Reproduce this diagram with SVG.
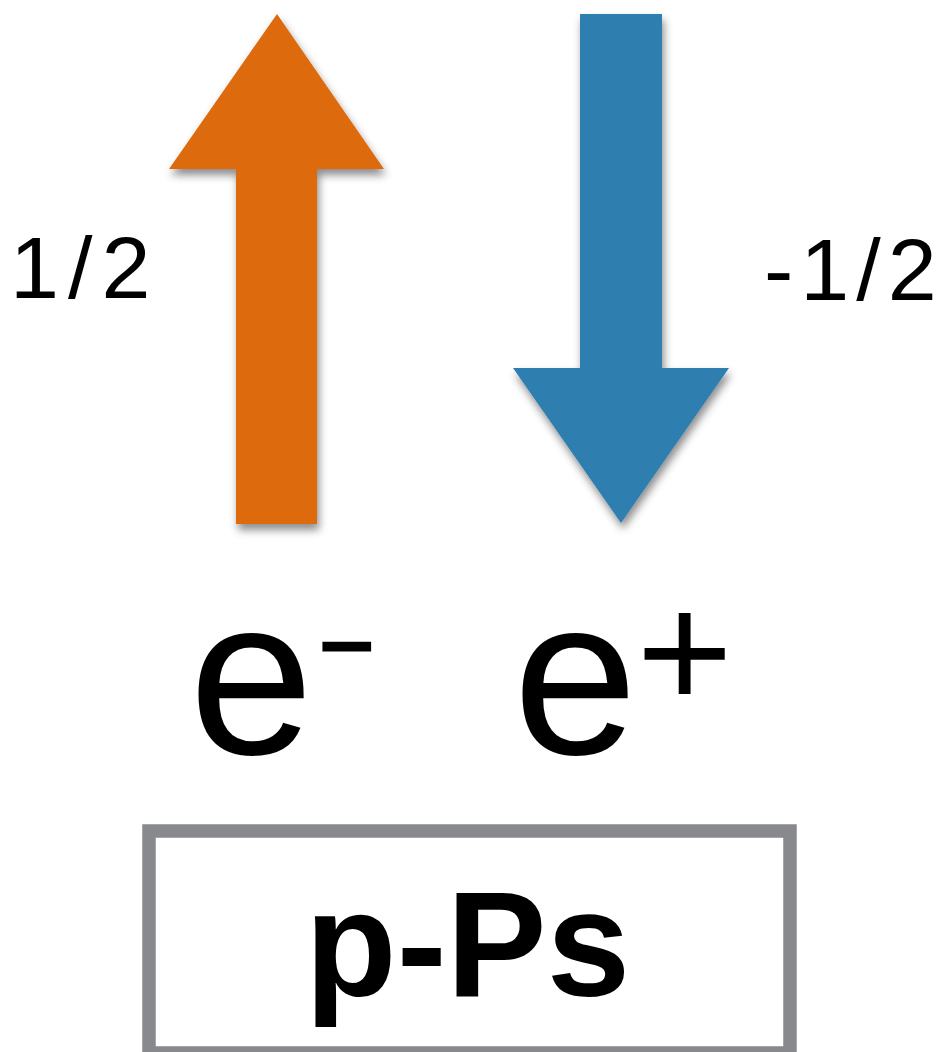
<svg xmlns="http://www.w3.org/2000/svg" width="941" height="1052" viewBox="0 0 941 1052">
<defs>
<filter id="shadow" x="-20%" y="-10%" width="140%" height="130%">
<feDropShadow dx="2" dy="6" stdDeviation="4" flood-color="#000" flood-opacity="0.45"/>
</filter>
</defs>
<style>
.lbl{font-family:"Liberation Sans",Arial,sans-serif;fill:#000}
.spin{font-size:88px}
.part{font-size:224px}
.box{fill:#fff;stroke:#87898d;stroke-width:13.5}
.title{font-family:"Liberation Sans",Arial,sans-serif;font-weight:bold;font-size:150px;fill:#000}
</style>
<rect width="941" height="1052" fill="#fff"/>
<g id="connectors">
<polygon id="arrow-up" filter="url(#shadow)" fill="#dd6b0f" points="236,524 317,524 317,169 384,169 277,14 169,169 236,169"/>
<polygon id="arrow-down" filter="url(#shadow)" fill="#2e7eb0" points="580,14 662,14 662,368 729,368 621,523 513,368 580,368"/>
</g>
<g id="spin-up-label"><text class="lbl spin" x="10" y="298" dx="0 9 9">1/2</text></g>
<g id="spin-down-label"><text class="lbl spin" x="764" y="300" dx="0 7 7 7">-1/2</text></g>
<g id="electron"><text class="lbl part" x="189" y="754">e<tspan font-size="94" dx="6" dy="-76" stroke="#000" stroke-width="3">−</tspan></text></g>
<g id="positron"><text class="lbl part" x="513" y="754">e<tspan font-size="165" dx="-1" dy="-45">+</tspan></text></g>
<g id="p-Ps">
<rect class="box" x="149" y="831" width="641" height="222"/>
<text class="title" x="305" y="996">p-Ps</text>
</g>
</svg>
